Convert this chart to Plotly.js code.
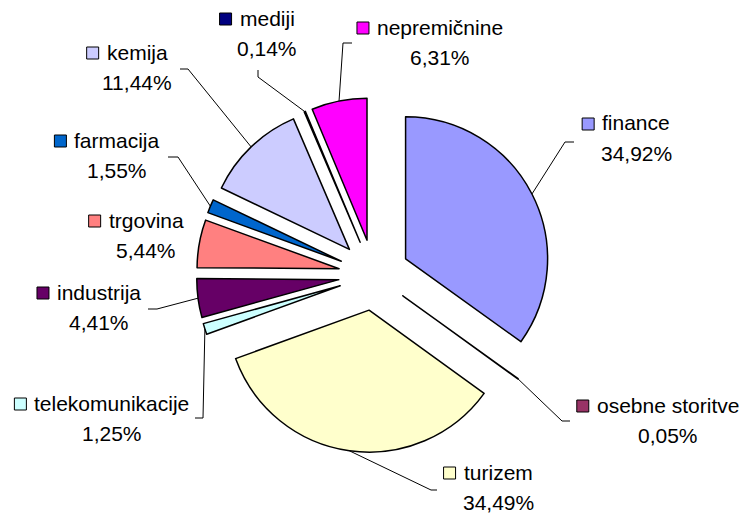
<!DOCTYPE html>
<html>
<head>
<meta charset="utf-8">
<script src="https://cdn.plot.ly/plotly-3.0.1.min.js"></script>
<style>
  html, body { margin: 0; padding: 0; background: #fff; }
  #chart { width: 745px; height: 515px; }
</style>
</head>
<body>
<div id="chart"></div>
<script>
// data
const sectors = ['finance', 'osebne storitve', 'turizem', 'telekomunikacije', 'industrija',
                 'trgovina', 'farmacija', 'kemija', 'mediji', 'nepremičnine'];
const shares = [34.92, 0.05, 34.49, 1.25, 4.41, 5.44, 1.55, 11.44, 0.14, 6.31];
const colors = ['#9999FF', '#993366', '#FFFFCC', '#CCFFFF', '#660066',
                '#FF8080', '#0066CC', '#CCCCFF', '#000080', '#FF00FF'];

// layout: where each label sits (centre of the name line, px) and the leader bends
const labelPos = [[636, 123], [668, 405], [498, 472], [112, 403], [99, 292],
                  [146, 220], [117, 140], [137, 52], [267, 18], [440, 27]];
const leaderBends = [
    [[565, 142], [574, 142]],
    [[562, 421], [570, 421]],
    [[431, 490], [437, 490]],
    [[203, 418], [195, 418]],
    [[157, 309], [148, 309]],
    null,
    [[178, 157], [168, 157]],
    [[188, 69], [180, 69]],
    [[258, 77], [258, 70]],
    [[343, 43], [352, 43]]
];

const W = 745, H = 515;
const cx = 374, cy = 275, radius = 142, pull = 0.25;
const box = 2 * radius * (1 + pull);
const fontFamily = '"Liberation Sans", Arial, sans-serif';
const fontSize = 21;

const px = (x) => x / W;
const py = (y) => 1 - y / H;

const ctx = document.createElement('canvas').getContext('2d');
ctx.font = fontSize + 'px "Liberation Sans"';

const total = shares.reduce((a, b) => a + b, 0);
const annotations = [];
const shapes = [];
let cum = 0;

shares.forEach((v, i) => {
    const mid = (cum + v / 2) / total * 2 * Math.PI;
    cum += v;

    // leader line from the rim of the pulled slice
    if (leaderBends[i]) {
        const sx = cx + radius * (1 + pull) * Math.sin(mid);
        const sy = cy - radius * (1 + pull) * Math.cos(mid);
        let d = 'M' + px(sx) + ',' + py(sy);
        leaderBends[i].forEach(p => { d += ' L' + px(p[0]) + ',' + py(p[1]); });
        shapes.push({
            type: 'path', xref: 'paper', yref: 'paper', path: d,
            line: { color: '#000', width: 1 }
        });
    }

    const [lx, ly] = labelPos[i];
    annotations.push({
        xref: 'paper', yref: 'paper', x: px(lx), y: py(ly),
        xanchor: 'center', yanchor: 'middle', showarrow: false, borderpad: 0,
        text: sectors[i], font: { family: fontFamily, size: fontSize, color: '#000' }
    });
    annotations.push({
        xref: 'paper', yref: 'paper', x: px(lx), y: py(ly + 30),
        xanchor: 'center', yanchor: 'middle', showarrow: false, borderpad: 0,
        text: v.toFixed(2).replace('.', ',') + '%',
        font: { family: fontFamily, size: fontSize, color: '#000' }
    });

    // legend key square
    const tw = ctx.measureText(sectors[i]).width;
    const right = lx - tw / 2 - 8;
    shapes.push({
        type: 'rect', xref: 'paper', yref: 'paper',
        x0: px(right - 12), x1: px(right),
        y0: py(ly + 7), y1: py(ly - 5),
        fillcolor: colors[i], line: { color: '#000', width: 1 }
    });
});

const trace = {
    type: 'pie',
    values: shares,
    labels: sectors,
    sort: false,
    direction: 'clockwise',
    rotation: 0,
    pull: shares.map(() => pull),
    marker: { colors: colors, line: { color: '#000', width: 1.5 } },
    textinfo: 'none',
    hoverinfo: 'skip',
    domain: {
        x: [(cx - box / 2) / W, (cx + box / 2) / W],
        y: [1 - (cy + box / 2) / H, 1 - (cy - box / 2) / H]
    }
};

Plotly.newPlot('chart', [trace], {
    width: W,
    height: H,
    margin: { l: 0, r: 0, t: 0, b: 0 },
    paper_bgcolor: '#fff',
    showlegend: false,
    annotations: annotations,
    shapes: shapes
}, {
    displayModeBar: false,
    staticPlot: true
});
</script>
</body>
</html>
